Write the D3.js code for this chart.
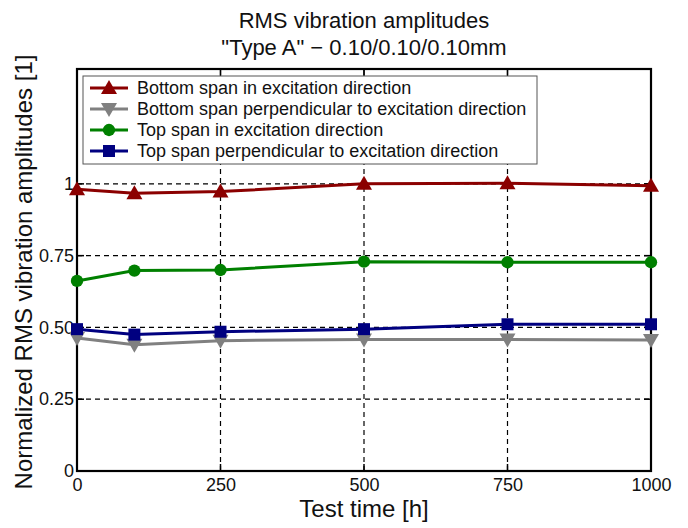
<!DOCTYPE html>
<html>
<head>
<meta charset="utf-8">
<script src="https://cdn.jsdelivr.net/npm/d3@7"></script>
<style>
  html, body { margin: 0; padding: 0; background: #fff; }
  svg { display: block; font-family: "Liberation Sans", Arial, sans-serif; }
</style>
</head>
<body>
<svg id="chart" width="688" height="528"></svg>
<script>
// Test times in hours
const hours = [0, 100, 250, 500, 750, 1000];

// Normalized RMS amplitudes per measurement position
const bottomInDir   = [0.981, 0.967, 0.973, 1.000, 1.002, 0.993];
const bottomPerpDir = [0.463, 0.440, 0.454, 0.458, 0.458, 0.456];
const topInDir      = [0.662, 0.698, 0.700, 0.729, 0.727, 0.727];
const topPerpDir    = [0.494, 0.475, 0.485, 0.494, 0.511, 0.511];

const seriesNames = [
  "Bottom span in excitation direction",
  "Bottom span perpendicular to excitation direction",
  "Top span in excitation direction",
  "Top span perpendicular to excitation direction"
];
const seriesColors = ["#8b0000", "#808080", "#008000", "#000080"];
const seriesMarkers = ["triUp", "triDown", "circle", "square"];

const xTicks = [0, 250, 500, 750, 1000];
const yTicks = [0, 0.25, 0.5, 0.75, 1];
const yTickLabels = ["0", "0.25", "0.50", "0.75", "1"];

const series = [bottomInDir, bottomPerpDir, topInDir, topPerpDir].map((vals, i) => ({
  name: seriesNames[i],
  color: seriesColors[i],
  marker: seriesMarkers[i],
  points: hours.map((h, j) => ({ x: h, y: vals[j] }))
}));

const svg = d3.select("#chart");
const margin = { left: 77, right: 37, top: 69, bottom: 57 };
const W = 688, H = 528;
const plotW = W - margin.left - margin.right;
const plotH = H - margin.top - margin.bottom;

const x = d3.scaleLinear().domain([0, 1000]).range([margin.left, margin.left + plotW]);
const y = d3.scaleLinear().domain([0, 1.4]).range([margin.top + plotH, margin.top]);

// Title
svg.append("text").attr("x", x(500)).attr("y", 28)
  .attr("text-anchor", "middle").attr("font-size", 22).attr("fill", "#111")
  .text("RMS vibration amplitudes");
svg.append("text").attr("x", x(500)).attr("y", 55)
  .attr("text-anchor", "middle").attr("font-size", 22).attr("fill", "#111")
  .text("\"Type A\" \u2212 0.10/0.10/0.10mm");

// Dashed grid
const grid = svg.append("g").attr("stroke", "#000").attr("stroke-width", 1.2)
  .attr("stroke-dasharray", "5,4");
grid.selectAll("line.gx").data(xTicks.slice(1, -1)).join("line")
  .attr("x1", d => x(d)).attr("x2", d => x(d))
  .attr("y1", y(0)).attr("y2", y(1.4));
grid.selectAll("line.gy").data(yTicks.slice(1)).join("line")
  .attr("x1", x(0)).attr("x2", x(1000))
  .attr("y1", d => y(d)).attr("y2", d => y(d));

// Inward ticks on all four sides
const tickLen = 7;
const ticks = svg.append("g").attr("stroke", "#000").attr("stroke-width", 1.5);
xTicks.forEach(t => {
  ticks.append("line").attr("x1", x(t)).attr("x2", x(t)).attr("y1", y(0)).attr("y2", y(0) - tickLen);
  ticks.append("line").attr("x1", x(t)).attr("x2", x(t)).attr("y1", y(1.4)).attr("y2", y(1.4) + tickLen);
});
yTicks.forEach(t => {
  ticks.append("line").attr("x1", x(0)).attr("x2", x(0) + tickLen).attr("y1", y(t)).attr("y2", y(t));
  ticks.append("line").attr("x1", x(1000)).attr("x2", x(1000) - tickLen).attr("y1", y(t)).attr("y2", y(t));
});

// Axes (labels only, frame drawn separately)
const xAxis = d3.axisBottom(x).tickValues(xTicks).tickSize(0).tickPadding(7).tickFormat(d3.format("d"));
const gx = svg.append("g").attr("transform", `translate(0,${y(0)})`).call(xAxis);
gx.select(".domain").remove();
gx.selectAll("text").attr("font-size", 18).attr("fill", "#111").attr("font-family", "Liberation Sans, Arial, sans-serif");

const yAxis = d3.axisLeft(y).tickValues(yTicks).tickSize(0).tickPadding(3)
  .tickFormat((d, i) => yTickLabels[i]);
const gy = svg.append("g").attr("transform", `translate(${x(0)},0)`).call(yAxis);
gy.select(".domain").remove();
gy.selectAll("text").attr("font-size", 18).attr("fill", "#111").attr("font-family", "Liberation Sans, Arial, sans-serif");

// Frame
svg.append("rect").attr("x", x(0)).attr("y", y(1.4))
  .attr("width", x(1000) - x(0)).attr("height", y(0) - y(1.4))
  .attr("fill", "none").attr("stroke", "#000").attr("stroke-width", 2.2);

// Axis titles
svg.append("text").attr("x", x(500)).attr("y", 517)
  .attr("text-anchor", "middle").attr("font-size", 24).attr("fill", "#111")
  .text("Test time [h]");
svg.append("text")
  .attr("transform", `translate(32,${(y(0) + y(1.4)) / 2 + 2}) rotate(-90)`)
  .attr("text-anchor", "middle").attr("font-size", 24).attr("fill", "#111")
  .text("Normalized RMS vibration amplitudes [1]");

// Marker shapes
function markerPath(type) {
  switch (type) {
    case "triUp": return "M0,-8L8,6L-8,6Z";
    case "triDown": return "M0,8L8,-6L-8,-6Z";
    case "circle": return d3.symbol().type(d3.symbolCircle).size(120)();
    case "square": return "M-6,-6L6,-6L6,6L-6,6Z";
  }
}

// Series lines and markers
const line = d3.line().x(d => x(d.x)).y(d => y(d.y));
const gs = svg.append("g");
series.forEach(s => {
  gs.append("path").datum(s.points).attr("d", line)
    .attr("fill", "none").attr("stroke", s.color).attr("stroke-width", 3);
  gs.selectAll(null).data(s.points).join("path")
    .attr("transform", d => `translate(${x(d.x)},${y(d.y)})`)
    .attr("d", markerPath(s.marker)).attr("fill", s.color);
});

// Legend
const lg = svg.append("g").attr("transform", "translate(83,76)");
lg.append("rect").attr("width", 454).attr("height", 88)
  .attr("fill", "#fff").attr("stroke", "#555").attr("stroke-width", 1);
series.forEach((s, i) => {
  const cy = 12 + i * 21;
  lg.append("line").attr("x1", 7).attr("x2", 45).attr("y1", cy).attr("y2", cy)
    .attr("stroke", s.color).attr("stroke-width", 3);
  lg.append("path").attr("transform", `translate(26,${cy})`)
    .attr("d", markerPath(s.marker)).attr("fill", s.color);
  lg.append("text").attr("x", 54).attr("y", cy + 6)
    .attr("font-size", 18).attr("fill", "#111").text(s.name);
});
</script>
</body>
</html>
